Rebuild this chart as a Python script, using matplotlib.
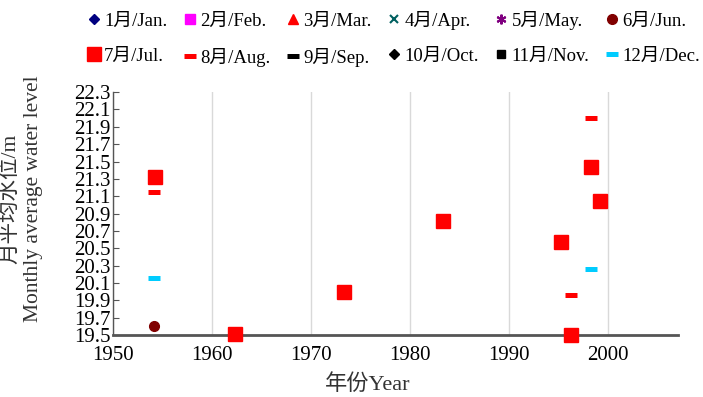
import matplotlib
matplotlib.use("Agg")
import matplotlib.pyplot as plt

plt.rcParams['font.family'] = ['Liberation Serif', 'Noto Sans CJK SC', 'DejaVu Sans']

# Monthly average water level records (year, level in m)
jun_years = [1954.1]
jun_levels = [19.6]

jul_years = [1954.2, 1962.3, 1973.3, 1983.3, 1995.2, 1996.2, 1998.2, 1999.2]
jul_levels = [21.32, 19.51, 20.0, 20.81, 20.57, 19.5, 21.44, 21.04]

aug_years = [1954.1, 1996.2, 1998.2]
aug_levels = [21.15, 19.96, 22.0]

dec_years = [1954.1, 1998.2]
dec_levels = [20.16, 20.26]

x_ticks = [1950, 1960, 1970, 1980, 1990, 2000]
y_ticks = [19.5, 19.7, 19.9, 20.1, 20.3, 20.5, 20.7, 20.9, 21.1, 21.3,
           21.5, 21.7, 21.9, 22.1, 22.3]

month_labels = ['1月/Jan.', '2月/Feb.', '3月/Mar.', '4月/Apr.', '5月/May.', '6月/Jun.',
                '7月/Jul.', '8月/Aug.', '9月/Sep.', '10月/Oct.', '11月/Nov.', '12月/Dec.']

fig = plt.figure(figsize=(7.03, 3.97), dpi=100)
ax = fig.add_axes([0.161, 0.156, 0.803, 0.612])

dash_kw = dict(linestyle='none', marker='_', markersize=8.5, markeredgewidth=3.6)

handles = []
handles += ax.plot([], [], linestyle='none', marker='D', color='#000080', markersize=5, label=month_labels[0])
handles += ax.plot([], [], linestyle='none', marker='s', color='#ff00ff', markersize=7, label=month_labels[1])
handles += ax.plot([], [], linestyle='none', marker='^', color='#ff0000', markersize=7, label=month_labels[2])
handles += ax.plot([], [], linestyle='none', marker='x', color='#006060', markersize=6,
                   markeredgewidth=1.5, label=month_labels[3])
handles += ax.plot([], [], linestyle='none', marker=(6, 2, 0), color='#800080', markersize=7,
                   markeredgewidth=1.5, label=month_labels[4])
handles += ax.plot(jun_years, jun_levels, linestyle='none', marker='o', color='#800000', markersize=7,
                   label=month_labels[5], zorder=3)
handles += ax.plot(jul_years, jul_levels, linestyle='none', marker='s', color='#ff0000', markersize=10,
                   label=month_labels[6], zorder=3, clip_on=False)
handles += ax.plot(aug_years, aug_levels, color='#ff0000', label=month_labels[7], zorder=3, **dash_kw)
handles += ax.plot([], [], color='#000000', label=month_labels[8], **dash_kw)
handles += ax.plot([], [], linestyle='none', marker='D', color='#000000', markersize=5, label=month_labels[9])
handles += ax.plot([], [], linestyle='none', marker='s', color='#000000', markersize=6, label=month_labels[10])
handles += ax.plot(dec_years, dec_levels, color='#00ccff', label=month_labels[11], zorder=3, **dash_kw)

ax.set_xlim(1950, 2007)
ax.set_ylim(19.5, 22.3)
ax.set_xticks(x_ticks)
ax.set_yticks(y_ticks)
ax.set_yticklabels([f'{v:.1f}' for v in y_ticks])
ax.grid(axis='x', color='#d9d9d9', linewidth=1)
ax.set_axisbelow(True)

for side in ('top', 'right'):
    ax.spines[side].set_visible(False)
ax.spines['bottom'].set_color('#555555')
ax.spines['bottom'].set_linewidth(2)
ax.spines['left'].set_color('#555555')
ax.spines['left'].set_linewidth(1)
ax.tick_params(axis='x', length=0, labelsize=15, pad=8)
ax.tick_params(axis='y', direction='in', length=4, color='#555555', labelsize=15, pad=2)

ax.set_xlabel('年份Year', fontsize=16, color='#333333')
ax.xaxis.set_label_coords(0.45, -0.16)
ax.set_ylabel('月平均水位/m\nMonthly average water level', fontsize=15.5, color='#333333',
              linespacing=1.25)
ax.yaxis.set_label_coords(-0.125, 0.56)

# fill the legend row by row: six months per row
ncol = 6
order = [r * ncol + c for c in range(ncol) for r in range(2)]
fig.legend([handles[i] for i in order], [month_labels[i] for i in order],
           loc='upper center', bbox_to_anchor=(0.56, 1.015), ncol=ncol, frameon=False,
           fontsize=13.5, handlelength=0.7, handletextpad=0.2, columnspacing=0.85,
           labelspacing=0.95)

fig.savefig('out.png', dpi=100)
